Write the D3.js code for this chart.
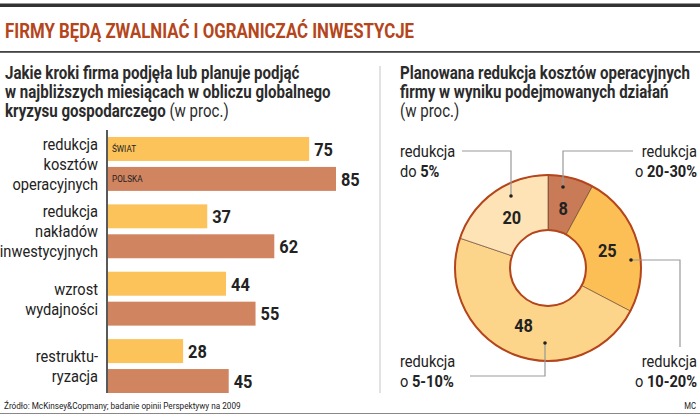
<!DOCTYPE html>
<html>
<head>
<meta charset="utf-8">
<script src="https://cdn.jsdelivr.net/npm/d3@7"></script>
<style>
  body { margin: 0; background: #fff; }
  svg { display: block; font-family: Roboto, "Noto Sans", sans-serif; }
</style>
</head>
<body>
<div id="vis"></div>
<script>
// bar chart data
let categories = [
  ["redukcja", "kosztów", "operacyjnych"],
  ["redukcja", "nakładów", "inwestycyjnych"],
  ["wzrost", "wydajności"],
  ["restruktu-", "ryzacja"]
];
let seriesNames = ["ŚWIAT", "POLSKA"];
let swiat = [75, 37, 44, 28];
let polska = [85, 62, 55, 45];

// donut data (clockwise from top)
let donutValues = [8, 25, 48, 20];
let donutLabels = [
  ["redukcja", "o ", "20-30%"],
  ["redukcja", "o ", "10-20%"],
  ["redukcja", "o ", "5-10%"],
  ["redukcja", "do ", "5%"]
];

let width = 700, height = 417;
let condense = 0.86; // squeeze glyphs to mimic the narrow newspaper face
let colors = {swiat: "#fbc35a", polska: "#d08460", title: "#b5451b", dark: "#2b2b2b"};
let donutColors = ["#c97a56", "#fbbf55", "#fdd58a", "#fde3b6"];

let svg = d3.select('#vis')
  .append('svg')
  .attr('width', width)
  .attr('height', height)
  .attr('viewBox', [0, 0, width, height].join(' '))

// header rules and title
svg.append("rect").attr("x", 0).attr("y", 3.5).attr("width", width).attr("height", 3.5).attr("fill", "#333")
svg.append("rect").attr("x", 0).attr("y", 51).attr("width", width).attr("height", 1.8).attr("fill", "#444")
svg.append("text")
  .attr("class", "title")
  .attr("x", 5).attr("y", 38)
  .style("font-size", "20.5px").style("font-weight", "bold")
  .attr("fill", colors.title)
  .text("FIRMY BĘDĄ ZWALNIAĆ I OGRANICZAĆ INWESTYCJE")

// left subtitle
let sub1 = ["Jakie kroki firma podjęła lub planuje podjąć", "w najbliższych miesiącach w obliczu globalnego", "kryzysu gospodarczego"];
sub1.forEach((t, i) => {
  let tx = svg.append("text").attr("x", 5).attr("y", 79 + i * 19)
    .style("font-size", "17.5px").attr("fill", colors.dark)
  tx.append("tspan").style("font-weight", "bold").text(t)
  if (i == 2) tx.append("tspan").text(" (w proc.)")
})

// right subtitle
let sub2 = ["Planowana redukcja kosztów operacyjnych", "firmy w wyniku podejmowanych działań"];
sub2.forEach((t, i) => {
  svg.append("text").attr("x", 400).attr("y", 79 + i * 19)
    .style("font-size", "17.5px").style("font-weight", "bold").attr("fill", colors.dark).text(t)
})
svg.append("text").attr("x", 400).attr("y", 117)
  .style("font-size", "17.5px").attr("fill", colors.dark).text("(w proc.)")

// vertical separator
svg.append("line").attr("x1", 380).attr("x2", 380).attr("y1", 66).attr("y2", 393)
  .attr("stroke", "#e2e2e2").attr("stroke-width", 2)

// bar scales
let xScale = d3.scaleLinear().domain([0, 85]).range([108, 336])
let yScale0 = d3.scaleBand().domain(d3.range(categories.length)).range([137, 393]).paddingInner(0.2)
let yScale1 = d3.scaleBand().domain(seriesNames).range([0, yScale0.bandwidth()]).paddingInner(0.2)

let groups = svg.selectAll(".grp")
  .data(categories.map((c, i) => ({c: c, i: i, vals: [swiat[i], polska[i]]})))
  .enter().append("g")
  .attr("class", "grp")
  .attr("transform", d => `translate(0,${yScale0(d.i)})`)

groups.selectAll("rect")
  .data(d => d.vals.map((v, j) => ({v: v, s: seriesNames[j], j: j})))
  .enter().append("rect")
  .attr("x", xScale(0))
  .attr("y", d => yScale1(d.s))
  .attr("width", d => xScale(d.v) - xScale(0))
  .attr("height", yScale1.bandwidth())
  .attr("fill", d => d.j == 0 ? colors.swiat : colors.polska)

groups.selectAll(".val")
  .data(d => d.vals.map((v, j) => ({v: v, s: seriesNames[j]})))
  .enter().append("text")
  .attr("class", "val")
  .attr("x", d => xScale(d.v) + 5)
  .attr("y", d => yScale1(d.s) + yScale1.bandwidth() / 2)
  .attr("dy", "0.36em")
  .style("font-size", "19px").style("font-weight", "bold").attr("fill", "#222")
  .text(d => d.v)

// legend inside first group
let first = groups.filter(d => d.i == 0)
first.selectAll(".leg")
  .data(seriesNames)
  .enter().append("text")
  .attr("x", 112)
  .attr("y", d => yScale1(d) + yScale1.bandwidth() / 2)
  .attr("dy", "0.35em")
  .style("font-size", "9.5px").attr("fill", "#222")
  .text(d => d)

// category labels
groups.each(function (d) {
  let n = d.c.length
  let mid = yScale0.bandwidth() / 2
  d3.select(this).selectAll(".cat")
    .data(d.c)
    .enter().append("text")
    .attr("x", 98)
    .attr("y", (t, k) => mid + (k - (n - 1) / 2) * 20)
    .attr("dy", "0.35em")
    .attr("text-anchor", "end")
    .style("font-size", "17px").attr("fill", "#222")
    .text(t => t)
})

// axis line
svg.append("line").attr("x1", 107).attr("x2", 107).attr("y1", 130).attr("y2", 393)
  .attr("stroke", "#222").attr("stroke-width", 1.5)

// donut
let cx = 548, cy = 268, rOut = 93, rIn = 38;
let pie = d3.pie().sort(null).value(d => d)
let arc = d3.arc().innerRadius(rIn).outerRadius(rOut)
let arcs = pie(donutValues)
let dg = svg.append("g").attr("transform", `translate(${cx},${cy})`)

dg.selectAll("path")
  .data(arcs)
  .enter().append("path")
  .attr("d", arc)
  .attr("fill", (d, i) => donutColors[i])
  .attr("stroke", "#5a3a2a").attr("stroke-width", 0.6)
dg.append("circle").attr("r", rOut).attr("fill", "none").attr("stroke", colors.title).attr("stroke-width", 2)
dg.append("circle").attr("r", rIn).attr("fill", "none").attr("stroke", colors.title).attr("stroke-width", 2)

let labelArc = d3.arc().innerRadius(62).outerRadius(62)
dg.selectAll(".dl")
  .data(arcs)
  .enter().append("text")
  .attr("transform", d => {
    let c = labelArc.centroid(d)
    return `translate(${c[0]},${c[1]})`
  })
  .attr("text-anchor", "middle").attr("dy", "0.35em")
  .style("font-size", "19px").style("font-weight", "bold").attr("fill", "#222")
  .text(d => d.value)

// leader lines from a dot in each slice out to its label
let leaders = [
  {side: "right", top: true, dot: [15, -81]},
  {side: "right", top: false, dot: [83, -8]},
  {side: "left", top: false, dot: [-3, 75]},
  {side: "left", top: true, dot: [-37, -72]}
]
arcs.forEach((d, i) => {
  let L = leaders[i]
  let px = cx + L.dot[0], py = cy + L.dot[1]
  let path
  if (i == 0) path = [[px, py], [px, 151], [633, 151]]
  else if (i == 3) path = [[px, py], [px, 151], [462, 151]]
  else if (i == 1) path = [[px, py], [680, py], [680, 347]]
  else path = [[px, py], [px, 376], [470, 376]]
  svg.append("path").attr("d", d3.line()(path)).attr("fill", "none").attr("stroke", "#999").attr("stroke-width", 1.2)
  svg.append("circle").attr("cx", px).attr("cy", py).attr("r", 1.8).attr("fill", "#222")
  let lab = donutLabels[i]
  let anchor = L.side == "right" ? "end" : "start"
  let tx = L.side == "right" ? 697 : 400
  let ty = L.top ? 157 : 367
  svg.append("text").attr("x", tx).attr("y", ty).attr("text-anchor", anchor)
    .style("font-size", "17px").attr("fill", "#222").text(lab[0])
  let t2 = svg.append("text").attr("x", tx).attr("y", ty + 20).attr("text-anchor", anchor)
    .style("font-size", "17px").attr("fill", "#222")
  t2.append("tspan").text(lab[1])
  t2.append("tspan").style("font-weight", "bold").text(lab[2])
})

// footer
svg.append("text").attr("x", 4).attr("y", 409)
  .style("font-size", "9.5px").attr("fill", "#222")
  .text("Źródło: McKinsey&Copmany; badanie opinii Perspektywy na 2009")
svg.append("text").attr("x", 696).attr("y", 409).attr("text-anchor", "end")
  .style("font-size", "9px").attr("fill", "#222").text("MC")
svg.append("line").attr("x1", 0).attr("x2", width).attr("y1", 413.5).attr("y2", 413.5)
  .attr("stroke", "#888").attr("stroke-width", 1)

// condense all text horizontally
svg.selectAll("text").each(function () {
  let w = this.getComputedTextLength()
  let k = d3.select(this).classed("title") ? 0.82 : condense
  d3.select(this).attr("textLength", w * k).attr("lengthAdjust", "spacingAndGlyphs")
})
</script>
</body>
</html>
